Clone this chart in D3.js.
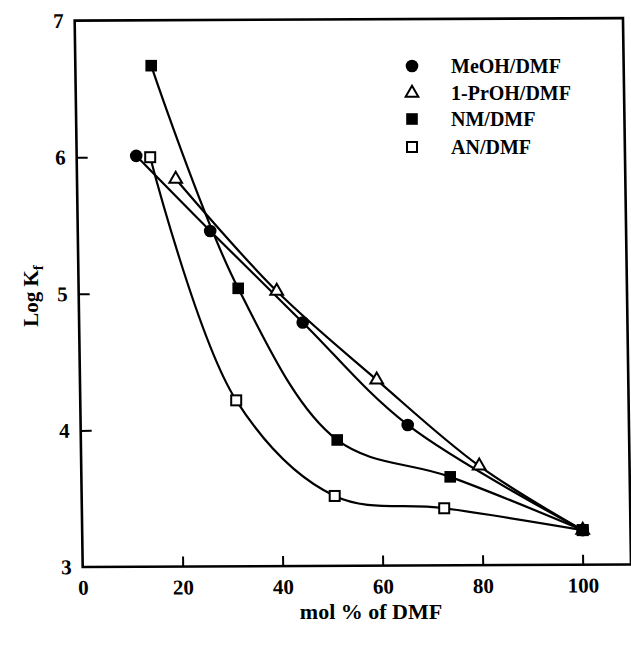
<!DOCTYPE html>
<html>
<head>
<meta charset="utf-8">
<script src="https://cdn.jsdelivr.net/npm/d3@7"></script>
<style>
  html, body { margin: 0; padding: 0; background: #fff; }
  svg { display: block; }
  text { font-family: "Liberation Serif", "DejaVu Serif", serif; font-weight: bold; fill: #000; }
</style>
</head>
<body>
<svg id="chart" width="631" height="646"></svg>
<script>
// ---- data ----
const seriesNames = ["MeOH/DMF", "1-PrOH/DMF", "NM/DMF", "AN/DMF"];
const meohX = [10.7, 25.5, 44.0, 65.0, 100];
const meohY = [6.01, 5.46, 4.79, 4.04, 3.27];
const prohX = [18.6, 38.8, 58.8, 79.3, 100];
const prohY = [5.84, 5.02, 4.37, 3.74, 3.27];
const nmX = [13.7, 31.1, 50.9, 73.5, 100];
const nmY = [6.67, 5.04, 3.93, 3.66, 3.27];
const anX = [13.5, 30.7, 50.4, 72.3, 100];
const anY = [6.00, 4.22, 3.52, 3.43, 3.27];
const xTicks = [0, 20, 40, 60, 80, 100];
const yTicks = [3, 4, 5, 6, 7];
const xTitle = "mol % of DMF";

// ---- layout ----
const svg = d3.select("#chart");
const pL = 82.7, pR = 631, pT = 20.6, pB = 567;
const x = d3.scaleLinear().domain([0, 100]).range([pL, 582.7]);
const y = d3.scaleLinear().domain([3, 7]).range([pB, pT]);

// the scanned frame is slightly sheared; mimic it on the frame/axes only
const shx = 0.0147, shy = -0.0046;
const frame = svg.append("g")
  .attr("transform", `matrix(1,${shy},${shx},1,${-shx * pB},${-shy * pL})`);

frame.append("rect")
  .attr("x", pL).attr("y", pT)
  .attr("width", pR - pL).attr("height", pB - pT)
  .attr("fill", "none").attr("stroke", "#000").attr("stroke-width", 2.6);

// axes with inward ticks
const xAxis = d3.axisBottom(x).tickValues(xTicks).tickSizeInner(-10).tickSizeOuter(0).tickPadding(10)
  .tickFormat(d3.format("d"));
const gx = frame.append("g").attr("transform", `translate(0,${pB})`).call(xAxis);
gx.select(".domain").remove();
gx.selectAll(".tick line").attr("stroke", "#000").attr("stroke-width", 2)
  .attr("display", d => d === 0 ? "none" : null);
gx.selectAll(".tick text").attr("font-size", 21).attr("font-family", "Liberation Serif")
  .attr("font-weight", "bold").attr("dy", "0.85em");

const yAxis = d3.axisLeft(y).tickValues(yTicks).tickSizeInner(-11).tickSizeOuter(0).tickPadding(11)
  .tickFormat(d3.format("d"));
const gy = frame.append("g").attr("transform", `translate(${pL},0)`).call(yAxis);
gy.select(".domain").remove();
gy.selectAll(".tick line").attr("stroke", "#000").attr("stroke-width", 2)
  .attr("display", d => (d === 3 || d === 7) ? "none" : null);
gy.selectAll(".tick text").attr("font-size", 21).attr("font-family", "Liberation Serif")
  .attr("font-weight", "bold");

// axis titles
svg.append("text").attr("x", 371).attr("y", 619).attr("text-anchor", "middle")
  .attr("font-size", 22).text(xTitle);

const yt = svg.append("text").attr("transform", "translate(38,296) rotate(-90)")
  .attr("text-anchor", "middle").attr("font-size", 21);
yt.append("tspan").text("Log K");
yt.append("tspan").attr("font-size", 15).attr("dy", 5).text("f");

// ---- series ----
const series = [
  { name: seriesNames[3], xs: anX, ys: anY, marker: "openSquare" },
  { name: seriesNames[2], xs: nmX, ys: nmY, marker: "filledSquare" },
  { name: seriesNames[1], xs: prohX, ys: prohY, marker: "openTriangle" },
  { name: seriesNames[0], xs: meohX, ys: meohY, marker: "filledCircle" }
];

const line = d3.line().x(d => x(d[0])).y(d => y(d[1])).curve(d3.curveCatmullRom.alpha(0.5));

series.forEach(s => {
  const pts = s.xs.map((v, i) => [v, s.ys[i]]);
  svg.append("path").datum(pts).attr("d", line)
    .attr("fill", "none").attr("stroke", "#000").attr("stroke-width", 2.2);
});

function drawMarker(g, type, cx, cy) {
  if (type === "filledCircle") {
    g.append("circle").attr("cx", cx).attr("cy", cy).attr("r", 6.3).attr("fill", "#000");
  } else if (type === "filledSquare") {
    g.append("rect").attr("x", cx - 5.8).attr("y", cy - 5.8).attr("width", 11.6).attr("height", 11.6).attr("fill", "#000");
  } else if (type === "openSquare") {
    g.append("rect").attr("x", cx - 5).attr("y", cy - 5).attr("width", 10).attr("height", 10)
      .attr("fill", "#fff").attr("stroke", "#000").attr("stroke-width", 2);
  } else if (type === "openTriangle") {
    g.append("path").attr("d", d3.symbol().type(d3.symbolTriangle).size(70)())
      .attr("transform", `translate(${cx},${cy})`)
      .attr("fill", "#fff").attr("stroke", "#000").attr("stroke-width", 2);
  }
}

series.forEach(s => {
  const g = svg.append("g");
  s.xs.forEach((v, i) => drawMarker(g, s.marker, x(v), y(s.ys[i])));
});

// ---- legend ----
const legendOrder = [
  { name: seriesNames[0], marker: "filledCircle" },
  { name: seriesNames[1], marker: "openTriangle" },
  { name: seriesNames[2], marker: "filledSquare" },
  { name: seriesNames[3], marker: "openSquare" }
];
const legRows = [66, 93, 119, 147];
const leg = svg.append("g");
legendOrder.forEach((d, i) => {
  drawMarker(leg, d.marker, 412, legRows[i]);
  leg.append("text").attr("x", 451).attr("y", legRows[i]).attr("dy", "0.35em")
    .attr("font-size", 20).text(d.name);
});
</script>
</body>
</html>
